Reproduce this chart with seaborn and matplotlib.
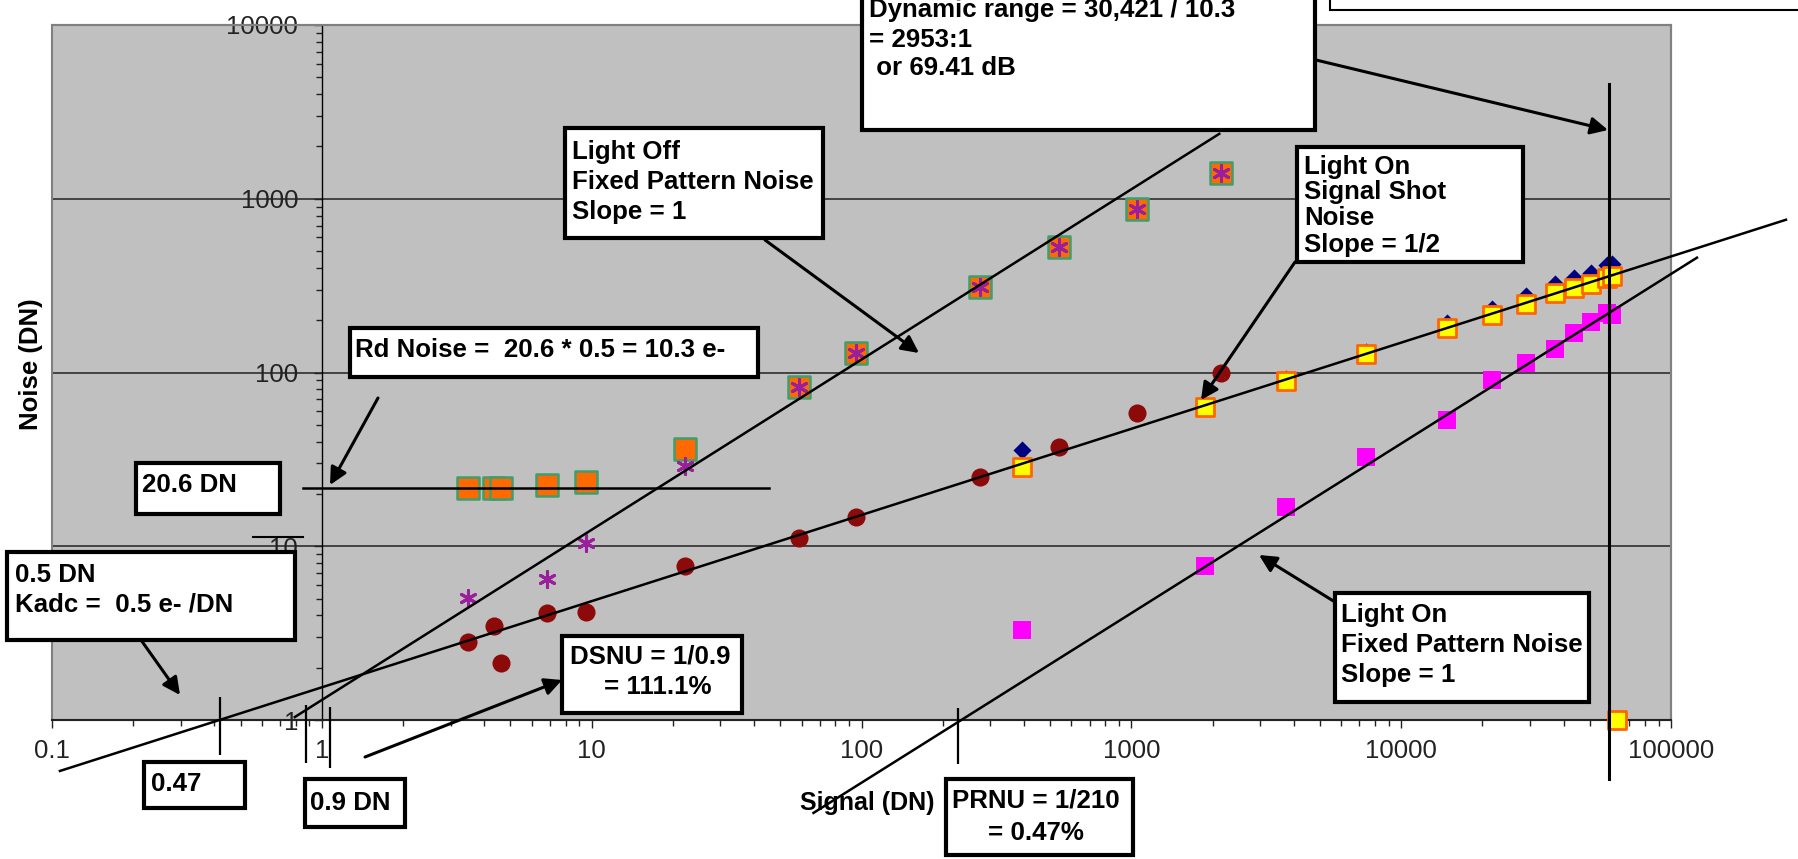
import numpy as np
import matplotlib
matplotlib.use('Agg')
import matplotlib.pyplot as plt
from matplotlib.patches import Rectangle, FancyArrowPatch
from matplotlib.lines import Line2D
from matplotlib.ticker import LogLocator, FuncFormatter, NullFormatter
import seaborn as sns

nan = np.nan

# Light off (dark) data
dark_signal = [3.47, 4.35, 4.6, 6.81, 9.5, 22.1, 58.9, 95.8, 276, 541, 1050, 2153]
dark_total_noise = [21.5, 21.5, 21.5, 22.4, 23.3, 36.1, 83, 129, 312, 530, 877, 1410]
dark_fpn = [5.02, nan, nan, 6.46, 10.4, 28.8, 83, 129, 312, 530, 877, 1410]
dark_shot = [2.81, 3.47, 2.13, 4.12, 4.18, 7.67, 11.1, 14.7, 24.9, 37.1, 58.1, 100]

# Light on data
light_signal = [395, 1879, 3750, 7410, 14800, 21700, 29000, 37200, 43700, 50500, 58000, 60400, 63100]
light_total_noise = [35.6, 65, 92, 132, 193, 233, 277, 321, 352, 376, 413, 422, nan]
light_shot = [28.5, 63, 88.8, 127, 181, 213, 249, 285, 308, 325, 352, 360, 1.0]
light_fpn = [3.29, 7.67, 16.8, 32.5, 53, 91, 114, 137, 168, 194, 221, 215, nan]

# hand drawn fit lines (end points, data units)
read_noise_x = [0.85, 45.3]
read_noise_y = [21.6, 21.6]
dark_fpn_x = [0.794, 2118]
dark_fpn_y = [1.04, 2364]
shot_x = [0.107, 266700]
shot_y = [0.509, 757]
prnu_x = [66.4, 124800]
prnu_y = [0.292, 458]
full_well_x = [59000, 59000]
full_well_y = [0.458, 4580]

# small marker ticks at the x axis
mark_x = [0.419, 0.872, 1.07, 228.6]
mark_lo = [0.63, 0.566, 0.53, 0.56]
mark_hi = [1.356, 1.22, 1.19, 1.18]

W, H = 1798, 859
plt.rcParams['font.family'] = ['Liberation Sans', 'DejaVu Sans']

fig = plt.figure(figsize=(W / 100, H / 100), dpi=100)
fig.patch.set_facecolor('white')


def fx(px):
    return px / W


def fy(py):
    return 1 - py / H


ax = fig.add_axes([fx(52), fy(720), (1671 - 52) / W, (720 - 25) / H])
ax.set_xscale('log')
ax.set_yscale('log')
ax.set_xlim(0.1, 100000)
ax.set_ylim(1, 10000)
ax.set_facecolor('#C0C0C0')

# scatter series
sns.scatterplot(x=light_signal, y=light_total_noise, marker='D', s=85, color='#000080',
                edgecolor='#000080', linewidth=0, ax=ax, zorder=3)
sns.scatterplot(x=light_signal, y=light_shot, marker='s', s=150, color='#FFFF00',
                edgecolor='#FF6600', linewidth=2, ax=ax, zorder=4)
sns.scatterplot(x=light_signal, y=light_fpn, marker='s', s=170, color='#FF00FF',
                edgecolor='#FF00FF', linewidth=0, ax=ax, zorder=4)
sns.scatterplot(x=dark_signal, y=dark_total_noise, marker='s', s=250, color='#FF6A00',
                edgecolor='#3E9E6E', linewidth=1.8, ax=ax, zorder=3)
sns.scatterplot(x=dark_signal, y=dark_shot, marker='o', s=170, color='#8C0A0A',
                edgecolor='#8C0A0A', linewidth=0, ax=ax, zorder=4)
ax.scatter(dark_signal, dark_fpn, marker=(6, 2, 0), s=130, color='#9A1F9A',
           linewidths=2.2, zorder=5)
for c in ax.collections:
    c.set_clip_on(False)

# fit lines
line_kw = dict(color='black', lw=1.8, zorder=6, clip_on=False)
ax.plot(read_noise_x, read_noise_y, **line_kw)
ax.plot(dark_fpn_x, dark_fpn_y, **line_kw)
ax.plot(shot_x, shot_y, **line_kw)
ax.plot(prnu_x, prnu_y, **line_kw)
ax.plot(full_well_x, full_well_y, color='black', lw=2.2, zorder=6, clip_on=False)
ax.vlines(mark_x, mark_lo, mark_hi, color='black', lw=1.6, zorder=6, clip_on=False)

# grid and axes
ax.yaxis.grid(True, which='major', color='#222222', lw=1.1, zorder=1)
ax.set_axisbelow(True)
for side in ['top', 'right']:
    ax.spines[side].set_color('#808080')
    ax.spines[side].set_linewidth(1.5)
ax.spines['left'].set_position(('data', 1))
ax.spines['left'].set_color('black')
ax.spines['left'].set_linewidth(1.0)
ax.spines['bottom'].set_color('#222222')
ax.spines['bottom'].set_linewidth(1.5)
ax.add_patch(Rectangle((0, 0), 1, 1, transform=ax.transAxes, fill=False,
                       edgecolor='#808080', lw=1.5, zorder=1, clip_on=False))

fmt = FuncFormatter(lambda v, p: ('%g' % v) if v < 1 else '%d' % round(v))
ax.xaxis.set_major_locator(LogLocator(base=10, numticks=12))
ax.xaxis.set_minor_locator(LogLocator(base=10, subs=np.arange(2, 10), numticks=12))
ax.xaxis.set_major_formatter(fmt)
ax.xaxis.set_minor_formatter(NullFormatter())
ax.yaxis.set_major_locator(LogLocator(base=10, numticks=12))
ax.yaxis.set_minor_locator(LogLocator(base=10, subs=np.arange(2, 10), numticks=12))
ax.yaxis.set_major_formatter(fmt)
ax.yaxis.set_minor_formatter(NullFormatter())
ax.tick_params(axis='both', which='major', direction='out', length=6, width=1,
               labelsize=18.5, color='#222222', labelcolor='#222222')
ax.tick_params(axis='both', which='minor', direction='out', length=4, width=1,
               color='#222222')
ax.tick_params(axis='y', which='major', pad=11)
ax.tick_params(axis='x', which='major', pad=8)

# axis titles
fig.text(fx(31), fy(364), 'Noise (DN)', rotation=90, ha='center', va='center',
         fontsize=18.5, fontweight='bold')
fig.text(fx(867), fy(803), 'Signal (DN)', ha='center', va='center',
         fontsize=18, fontweight='bold', zorder=7)

# stray line over the "10" label
fig.add_artist(Line2D([fx(253), fx(303)], [fy(537), fy(537)], color='black', lw=1.5))


def box(x0, y0, x1, y1, lines, lw=3.0):
    fig.patches.append(Rectangle((fx(x0), fy(y1)), (x1 - x0) / W, (y1 - y0) / H,
                                 transform=fig.transFigure, facecolor='white',
                                 edgecolor='black', lw=lw, zorder=8))
    for tx, ty, s in lines:
        fig.text(fx(tx), fy(ty), s, ha='left', va='center', fontsize=18.6,
                 fontweight='bold', zorder=9)


def arrow(x0, y0, x1, y1):
    fig.add_artist(FancyArrowPatch((fx(x0), fy(y0)), (fx(x1), fy(y1)),
                                   transform=fig.transFigure, arrowstyle='-|>',
                                   mutation_scale=26, lw=2.2, color='black',
                                   shrinkA=0, shrinkB=0, zorder=7))


box(565, 128, 823, 238, [(572, 152, 'Light Off'), (572, 182, 'Fixed Pattern Noise'),
                         (572, 212, 'Slope = 1')])
box(862, -30, 1315, 130, [(869, 10, 'Dynamic range = 30,421 / 10.3'), (869, 40, '= 2953:1'),
                          (869, 68, ' or 69.41 dB')])
box(1297, 147, 1523, 262, [(1304, 167, 'Light On'), (1304, 192, 'Signal Shot'),
                           (1304, 218, 'Noise'), (1304, 245, 'Slope = 1/2')])
box(350, 328, 758, 377, [(355, 350, 'Rd Noise =  20.6 * 0.5 = 10.3 e-')])
box(136, 463, 280, 514, [(142, 485, '20.6 DN')])
box(7, 552, 295, 640, [(15, 575, '0.5 DN'), (15, 605, 'Kadc =  0.5 e- /DN')])
box(144, 762, 245, 808, [(151, 784, '0.47')])
box(305, 779, 405, 827, [(310, 803, '0.9 DN')])
box(562, 636, 742, 713, [(570, 657, 'DSNU = 1/0.9'), (604, 687, '= 111.1%')])
box(946, 779, 1133, 855, [(952, 800, 'PRNU = 1/210'), (988, 833, '= 0.47%')])
box(1335, 593, 1589, 702, [(1341, 615, 'Light On'), (1341, 645, 'Fixed Pattern Noise'),
                           (1341, 675, 'Slope = 1')])
box(1330, -30, 1830, 10, [], lw=1.5)

arrow(1316, 60, 1608, 130)
arrow(765, 240, 919, 353)
arrow(1295, 262, 1201, 400)
arrow(378, 398, 330, 485)
arrow(141, 640, 180, 695)
arrow(365, 757, 562, 680)
arrow(1335, 602, 1259, 555)

fig.savefig('out.png', dpi=100)
